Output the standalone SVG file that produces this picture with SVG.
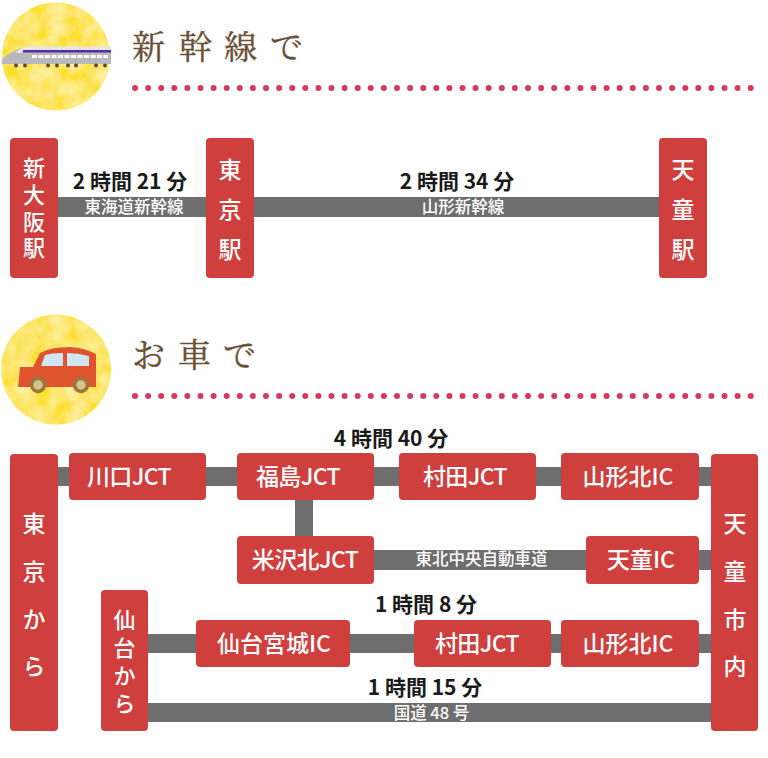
<svg xmlns="http://www.w3.org/2000/svg" width="768" height="758" viewBox="0 0 768 758">
<style>
.n{fill:#ce3f3d}
.l{fill:#6e6e6e}
text{font-family:"Noto Sans CJK JP","Noto Sans",sans-serif}
.w{fill:#fff;font-weight:500;text-anchor:middle}
.j{font-size:23px}
.c{letter-spacing:-.6px}
.v{fill:#fff;font-weight:500;writing-mode:vertical-rl;font-size:23px}
.t{fill:#1a1a1a;font-weight:700;font-size:21px;text-anchor:middle}
.s{fill:#fff;font-size:16.500px;font-weight:500;text-anchor:middle}
.h{fill:#6b4f35;font-family:"Noto Serif CJK JP","Liberation Serif","Noto Sans CJK JP",serif;font-size:33px;stroke:#6b4f35;stroke-width:.4}
.d{fill:none;stroke:#d23a5f;stroke-width:6;stroke-linecap:round;stroke-dasharray:0 13.100}
</style>
<defs>
<filter id="wc" x="-5%" y="-5%" width="110%" height="110%">
<feTurbulence type="fractalNoise" baseFrequency="0.06" numOctaves="3" seed="4" result="n"/>
<feColorMatrix in="n" type="matrix" values="0 0 0 0 1  0 0 0 0 .96  0 0 0 0 .55  1.100 0 0 0 -0.300" result="c"/>
<feComposite in="c" in2="SourceGraphic" operator="in" result="m"/>
<feMerge><feMergeNode in="SourceGraphic"/><feMergeNode in="m"/></feMerge>
</filter>
</defs>
<g id="icon-train">
<circle cx="56" cy="56.500" r="54" fill="#fde02e" filter="url(#wc)"/>
<path d="M111 47H24Q8 53 3 58Q1 61 2 64H111Z" fill="#b8b8bd"/>
<path d="M111 46.500H24L15 53H21L26 50H111Z" fill="#e4e7e5"/>
<rect x="23" y="50" width="88" height="2.500" fill="#5b2c9b"/>
<path d="M32 56.500H108" stroke="#fff" stroke-width="3" stroke-dasharray="5 1.500"/>
<g fill="#5a4a40"><circle cx="16" cy="65.500" r="2"/><circle cx="25" cy="65.500" r="2"/><circle cx="48" cy="65.500" r="2"/><circle cx="57" cy="65.500" r="2"/><circle cx="68" cy="65.500" r="2"/><circle cx="76" cy="65.500" r="2"/><circle cx="96" cy="65.500" r="2"/><circle cx="105" cy="65.500" r="2"/></g>
</g>
<g id="title-shinkansen">
<text class="h" x="132" y="59">新</text><text class="h" x="179" y="59">幹</text><text class="h" x="224" y="59">線</text><text class="h" x="270" y="59">で</text>
<path class="d" d="M135 88H752"/>
</g>
<g id="connectors">
<rect class="l" x="58" y="197" width="601" height="20"/>
<rect class="l" x="58" y="467" width="653" height="19"/>
<rect class="l" x="295" y="500" width="18" height="36"/>
<rect class="l" x="374" y="550" width="337" height="20"/>
<rect class="l" x="148" y="634" width="563" height="19"/>
<rect class="l" x="148" y="703" width="563" height="19"/>
</g>
<g id="n-shinosaka"><rect class="n" x="10" y="138" width="48" height="140" rx="4"/>
<text class="v" x="34" y="157" style="font-size:22px;letter-spacing:4.700px">新大阪駅</text></g>
<g id="n-tokyo"><rect class="n" x="206" y="138" width="48" height="140" rx="4"/>
<text class="v" x="230" y="158" style="letter-spacing:17px">東京駅</text></g>
<g id="n-tendo"><rect class="n" x="659" y="138" width="48" height="140" rx="4"/>
<text class="v" x="683" y="158" style="letter-spacing:17px">天童駅</text></g>
<g id="labels-train">
<text class="t" x="130" y="189">2 時間 21 分</text>
<text class="s" x="134" y="213">東海道新幹線</text>
<text class="t" x="457" y="189">2 時間 34 分</text>
<text class="s" x="463" y="213">山形新幹線</text>
</g>
<g id="icon-car">
<circle cx="56" cy="369.500" r="55" fill="#fde02e" filter="url(#wc)"/>
<path d="M18 387L20 367H33L40 353Q50 347 70 347Q85 348 96 354V387Z" fill="#e0532f"/>
<path d="M41 366L45 355Q52 353 63 353V366ZM67 353Q78 353 89 356V366H67Z" fill="#cfe6f3"/>
<g fill="#d8c48a" stroke="#98783c" stroke-width="3.500"><circle cx="38" cy="385" r="6.500"/><circle cx="81" cy="385" r="6.500"/></g>
</g>
<g id="title-car">
<text class="h" x="132" y="367">お</text><text class="h" x="178" y="367">車</text><text class="h" x="223" y="367">で</text>
<path class="d" d="M135 396H752"/>
</g>
<g id="n-tokyo-from"><rect class="n" x="10" y="454" width="48" height="277" rx="4"/>
<text class="v" x="34" y="512" style="letter-spacing:24.700px">東京から</text></g>
<g id="n-kawaguchi"><rect class="n" x="69" y="453" width="137" height="47" rx="4"/><text class="w j c" x="129" y="485">川口JCT</text></g>
<g id="n-fukushima"><rect class="n" x="237" y="453" width="137" height="47" rx="4"/><text class="w j c" x="298" y="485">福島JCT</text></g>
<g id="n-murata1"><rect class="n" x="399" y="453" width="137" height="47" rx="4"/><text class="w j c" x="465" y="485">村田JCT</text></g>
<g id="n-yamagatakita1"><rect class="n" x="561" y="453" width="138" height="47" rx="4"/><text class="w j" x="628" y="485">山形北IC</text></g>
<g id="n-tendo-city"><rect class="n" x="711" y="454" width="47" height="277" rx="4"/>
<text class="v" x="735" y="512" style="letter-spacing:24.700px">天童市内</text></g>
<g id="n-yonezawa"><rect class="n" x="237" y="536" width="137" height="48" rx="4"/><text class="w j c" x="305" y="568">米沢北JCT</text></g>
<g id="n-tendo-ic"><rect class="n" x="586" y="536" width="113" height="48" rx="4"/><text class="w j" x="641" y="568">天童IC</text></g>
<g id="n-sendai"><rect class="n" x="101" y="590" width="47" height="141" rx="4"/>
<text class="v" x="124.500" y="609" style="font-size:22px;letter-spacing:6px">仙台から</text></g>
<g id="n-sendaimiyagi"><rect class="n" x="196" y="620" width="154" height="47" rx="4"/><text class="w j" x="274" y="652">仙台宮城IC</text></g>
<g id="n-murata2"><rect class="n" x="414" y="620" width="137" height="47" rx="4"/><text class="w j c" x="477" y="652">村田JCT</text></g>
<g id="n-yamagatakita2"><rect class="n" x="561" y="620" width="138" height="47" rx="4"/><text class="w j" x="628" y="652">山形北IC</text></g>
<g id="labels-car">
<text class="t" x="391" y="446">4 時間 40 分</text>
<text class="s" x="481.500" y="565">東北中央自動車道</text>
<text class="t" x="426" y="612">1 時間 8 分</text>
<text class="t" x="425" y="695">1 時間 15 分</text>
<text class="s" x="431.500" y="719">国道 48 号</text>
</g>
</svg>
